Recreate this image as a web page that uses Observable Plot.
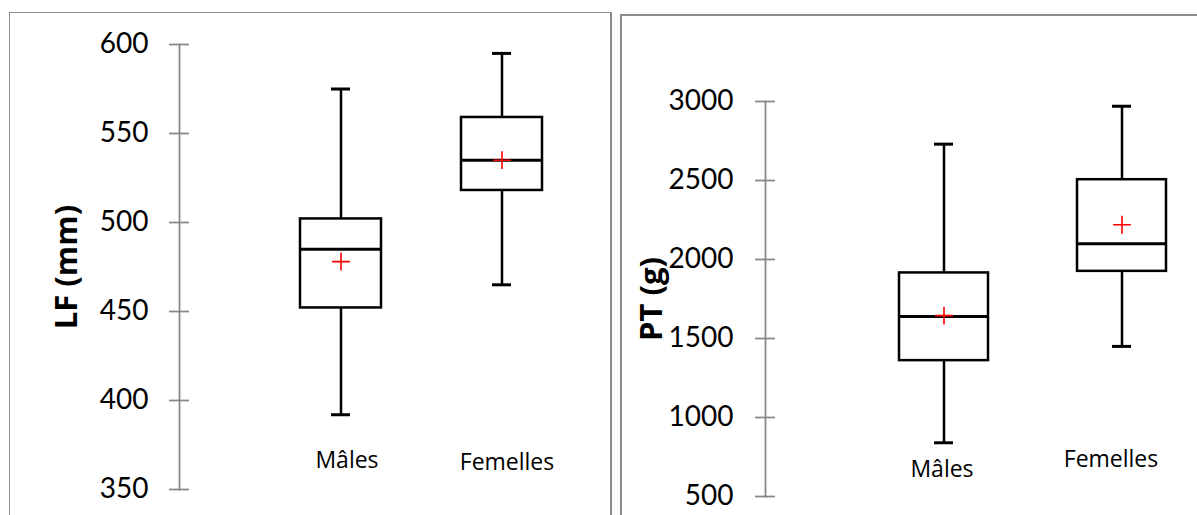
<!DOCTYPE html>
<html>
<head>
<meta charset="utf-8">
<script src="https://cdn.jsdelivr.net/npm/d3@7"></script>
<script src="https://cdn.jsdelivr.net/npm/@observablehq/plot@0.6"></script>
<style>
  html, body { margin: 0; padding: 0; background: #fff; }
  body { width: 1197px; height: 515px; overflow: hidden; position: relative; }
  .panel { position: absolute; background: #fff; overflow: hidden; }
  #p1 { left: 9px; top: 12px; width: 600px; height: 520px; border: 1px solid #8c8c8c; border-right: 2px solid #8c8c8c; }
  #p2 { left: 620px; top: 14px; width: 600px; height: 520px; border-left: 2px solid #8c8c8c; border-top: 2px solid #8c8c8c; }
  svg { font-variant-numeric: oldstyle-nums; }
</style>
</head>
<body>
<div id="p1" class="panel"></div>
<div id="p2" class="panel"></div>
<script>
// ---- data ----
const categories = ["Mâles", "Femelles"];

// LF (mm)
const lfMin    = [392, 465];
const lfQ1     = [452, 518];
const lfMedian = [485, 535];
const lfQ3     = [502, 559];
const lfMax    = [575, 595];
const lfMean   = [478, 535];
const lfTicks  = [350, 400, 450, 500, 550, 600];

// PT (g)
const ptMin    = [840, 1450];
const ptQ1     = [1360, 1925];
const ptMedian = [1640, 2100];
const ptQ3     = [1915, 2505];
const ptMax    = [2730, 2970];
const ptMean   = [1645, 2220];
const ptTicks  = [500, 1000, 1500, 2000, 2500, 3000];

function rows(min, q1, med, q3, max, mean) {
  return categories.map((c, i) => ({cat: c, min: min[i], q1: q1[i], median: med[i], q3: q3[i], max: max[i], mean: mean[i]}));
}

const axisGray = "#868686";

function panel(o) {
  const data = o.data;
  return Plot.plot({
    width: 600,
    height: 520,
    marginLeft: o.marginLeft,
    marginTop: o.yRange[1],
    marginBottom: 520 - o.yRange[0],
    marginRight: 10,
    x: {type: "band", domain: categories, range: o.xRange, paddingInner: 0.5, paddingOuter: 0.25, axis: null},
    y: {domain: o.yDomain, range: o.yRange, axis: null},
    style: {fontFamily: "Lato, 'Open Sans', sans-serif", background: "white", color: "black"},
    marks: [
      Plot.frame({anchor: "left", stroke: axisGray, strokeWidth: 1.75}),
      Plot.axisY(o.ticks, {anchor: "left", tickSize: 20, dx: 10, tickFormat: () => "", stroke: axisGray, strokeWidth: 1.75}),
      Plot.axisY(o.ticks, {anchor: "left", tickSize: 0, tickPadding: o.tickPadding, fontSize: 28, fill: "black", tickFormat: d => String(d)}),
      Plot.ruleX(data, {x: "cat", y1: "min", y2: "max", stroke: "black", strokeWidth: 2.5}),
      Plot.tickY(data, {x: "cat", y: "min", insetLeft: o.capInset, insetRight: o.capInset, stroke: "black", strokeWidth: 3}),
      Plot.tickY(data, {x: "cat", y: "max", insetLeft: o.capInset, insetRight: o.capInset, stroke: "black", strokeWidth: 3}),
      Plot.barY(data, {x: "cat", y1: "q1", y2: "q3", fill: "white", stroke: "black", strokeWidth: 2.5}),
      Plot.tickY(data, {x: "cat", y: "median", stroke: "black", strokeWidth: 3}),
      Plot.dot(data, {x: "cat", y: "mean", symbol: "plus", r: 5.8, stroke: "red", strokeWidth: 1.6}),
      Plot.text([o.label], {frameAnchor: "left", dx: o.labelDx, rotate: -90, textAnchor: "middle", lineAnchor: "middle", text: d => d, fontSize: 31, fontWeight: "bold", fontFamily: "'Open Sans', sans-serif", fill: "black"}),
      Plot.text([categories[0]], {x: d => d, text: d => d, frameAnchor: "bottom", dx: o.catDx[0], dy: o.catDy[0], lineAnchor: "bottom", fontSize: 23, fontFamily: "'Open Sans', sans-serif", fill: "black"}),
      Plot.text([categories[1]], {x: d => d, text: d => d, frameAnchor: "bottom", dx: o.catDx[1], dy: o.catDy[1], lineAnchor: "bottom", fontSize: 23, fontFamily: "'Open Sans', sans-serif", fill: "black"})
    ]
  });
}

document.getElementById("p1").append(panel({
  data: rows(lfMin, lfQ1, lfMedian, lfQ3, lfMax, lfMean),
  ticks: lfTicks,
  yDomain: [350, 600],
  yRange: [476, 31],
  marginLeft: 169,
  xRange: [249.5, 571.5],
  capInset: 31,
  tickPadding: 31,
  label: "LF (mm)",
  labelDx: -112,
  catDx: [6, 5],
  catDy: [-22, -20]
}));

document.getElementById("p2").append(panel({
  data: rows(ptMin, ptQ1, ptMedian, ptQ3, ptMax, ptMean),
  ticks: ptTicks,
  yDomain: [500, 3000],
  yRange: [480, 85],
  marginLeft: 143,
  xRange: [232, 588],
  capInset: 35,
  tickPadding: 32,
  label: "PT (g)",
  labelDx: -113,
  catDx: [-2, -11],
  catDy: [-20, -30]
}));
</script>
</body>
</html>
